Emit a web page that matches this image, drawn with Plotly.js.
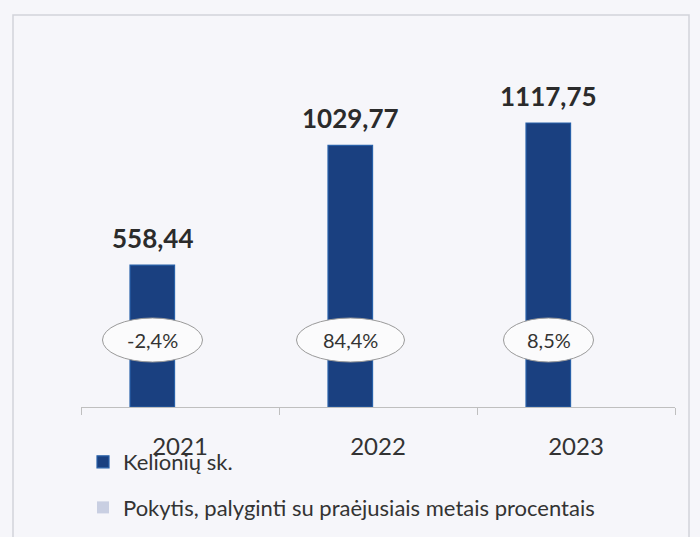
<!DOCTYPE html>
<html>
<head>
<meta charset="utf-8">
<script src="https://cdn.plot.ly/plotly-3.0.1.min.js"></script>
<style>
  html, body { margin: 0; padding: 0; background: #f6f6fa; }
  #chart { width: 700px; height: 537px; }
</style>
</head>
<body>
<div id="chart"></div>
<script>
// ---- data ----
const years = ["2021", "2022", "2023"];
const trips = [558.44, 1029.77, 1117.75];           // Kelionių sk.
const changePct = ["-2,4%", "84,4%", "8,5%"];        // Pokytis, palyginti su praėjusiais metais procentais
const changeVals = [-2.4, 84.4, 8.5];
const seriesNames = ["Kelionių sk.", "Pokytis, palyginti su praėjusiais metais procentais"];

// ---- style ----
const barColor = "#1A4080";
const pctColor = "#c9cfe2";
const textColor = "#2b2b2b";
const FONT = "Lato, 'Open Sans', sans-serif";
const BAR_OFFSET = -0.2525, BAR_WIDTH = 0.225;   // in category units
const CENTER_SHIFT_PX = -27.5;
const ellipseW = [100, 108, 90];

const traces = [
  {
    type: "bar", x: years, y: trips, name: seriesNames[0],
    legendgroup: "a",
    marker: { color: barColor, line: { color: "#2860a8", width: 1.2 } },
    offset: BAR_OFFSET, width: BAR_WIDTH,
    hoverinfo: "skip"
  },
  {
    type: "bar", x: years, y: changeVals, name: seriesNames[1],
    legendgroup: "b", yaxis: "y2",
    marker: { color: pctColor },
    offset: BAR_OFFSET + BAR_WIDTH, width: 0.02,
    hoverinfo: "skip"
  }
];

const L = 81, R = 25, T = 20, B = 130, W = 700, H = 537;
const plotW = W - L - R, plotH = H - T - B;
const px2paperX = p => (p - L) / plotW;
const px2paperY = p => (H - B - p) / plotH;

const annotations = [];
const shapes = [];
years.forEach((yr, i) => {
  annotations.push({
    x: i, y: trips[i], xref: "x", yref: "y",
    text: "<b>" + trips[i].toFixed(2).replace(".", ",") + "</b>",
    showarrow: false, yanchor: "bottom", xanchor: "center",
    xshift: CENTER_SHIFT_PX, yshift: 9,
    font: { family: FONT, size: 26, color: textColor }
  });
  const cy = 340;
  shapes.push({
    type: "circle", xref: "x", yref: "paper",
    xsizemode: "pixel", xanchor: i,
    x0: CENTER_SHIFT_PX - ellipseW[i] / 2, x1: CENTER_SHIFT_PX + ellipseW[i] / 2,
    y0: px2paperY(cy + 22), y1: px2paperY(cy - 22),
    line: { color: "#9a9a9a", width: 1 },
    fillcolor: "#fbfbfc", layer: "above"
  });
  annotations.push({
    x: i, y: px2paperY(cy), xref: "x", yref: "paper",
    text: changePct[i], showarrow: false,
    xanchor: "center", yanchor: "middle", xshift: CENTER_SHIFT_PX,
    font: { family: FONT, size: 20, color: "#333333" }
  });
});

// outer frame
shapes.push({
  type: "rect", xref: "paper", yref: "paper",
  x0: px2paperX(13), x1: px2paperX(689),
  y0: px2paperY(560), y1: px2paperY(15),
  line: { color: "#d2d3da", width: 1.5 }, fillcolor: "rgba(0,0,0,0)", layer: "below"
});

const layout = {
  width: W, height: H,
  margin: { l: L, r: R, t: T, b: B, pad: 0, autoexpand: false },
  paper_bgcolor: "#f6f6fa", plot_bgcolor: "rgba(0,0,0,0)",
  separators: ",.",
  showlegend: true,
  font: { family: FONT, color: textColor },
  xaxis: {
    type: "category", range: [-0.5, 2.5],
    showline: true, linecolor: "#bfbfbf", linewidth: 1,
    ticks: "outside", tickson: "boundaries", ticklen: 7, tickcolor: "#bfbfbf",
    tickfont: { family: FONT, size: 24, color: "#333333" },
    ticklabelstandoff: 18, tickangle: 0, automargin: false,
    showgrid: false, zeroline: false, fixedrange: true
  },
  yaxis: { range: [0, 1523], visible: false, showgrid: false, zeroline: false, automargin: false },
  yaxis2: { overlaying: "y", range: [0, 1e7], visible: false, showgrid: false, zeroline: false },
  legend: {
    xref: "container", yref: "container",
    x: 83 / W, y: 1 - 441 / H, xanchor: "left", yanchor: "top",
    orientation: "v", traceorder: "grouped", tracegroupgap: 14,
    bgcolor: "rgba(0,0,0,0)", borderwidth: 0,
    font: { family: FONT, size: 22, color: "#333333" }
  },
  annotations: annotations,
  shapes: shapes
};

Plotly.newPlot("chart", traces, layout, { displayModeBar: false, staticPlot: true });
</script>
</body>
</html>
